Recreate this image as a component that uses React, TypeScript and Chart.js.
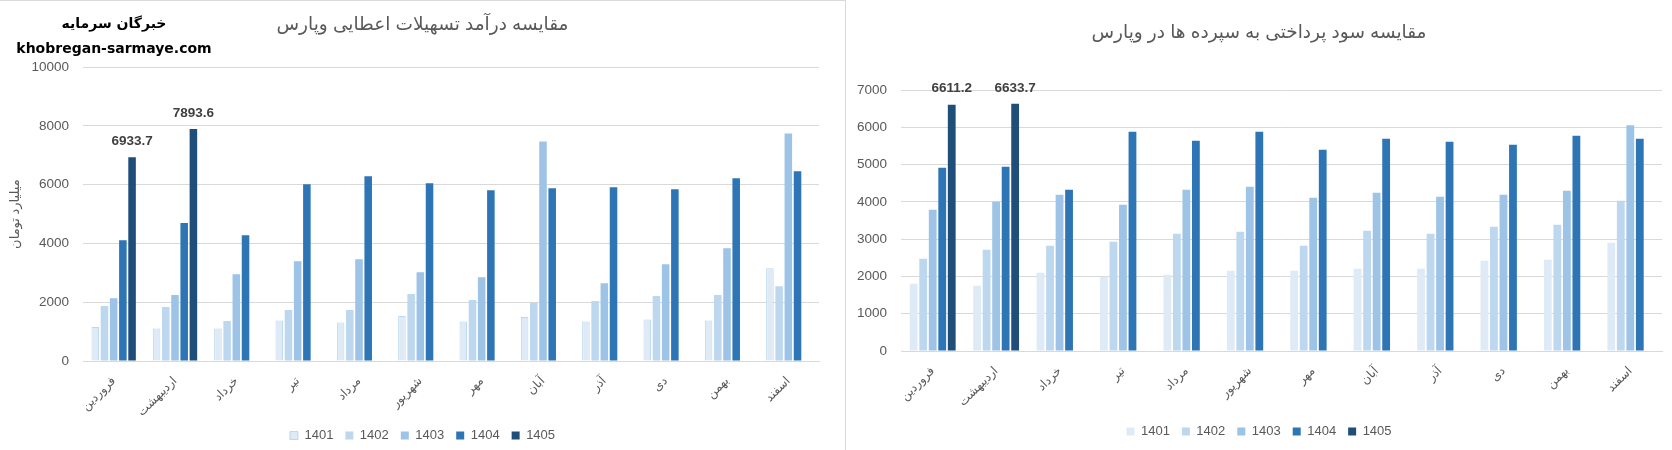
import { useEffect, useRef } from "react"
import { Chart, registerables } from "chart.js"

Chart.register(...registerables)

const FONT = "'Liberation Sans', 'DejaVu Sans', sans-serif"
const TEXT = "#595959"
const GRID = "#D9D9D9"

const months = ["فروردین", "اردیبهشت", "خرداد", "تیر", "مرداد", "شهریور", "مهر", "آبان", "آذر", "دی", "بهمن", "اسفند"]
const years = ["1401", "1402", "1403", "1404", "1405"]
const yearColors = ["#DEEBF7", "#BDD7EE", "#9DC3E6", "#2E75B6", "#1F4E79"]

// درآمد تسهیلات اعطایی (میلیارد تومان)
const loan1401 = [1155, 1110, 1110, 1382, 1314, 1529, 1348, 1495, 1348, 1416, 1382, 3160]
const loan1402 = [1869, 1835, 1359, 1733, 1733, 2277, 2073, 1982, 2039, 2209, 2243, 2548]
const loan1403 = [2140, 2243, 2956, 3398, 3466, 3024, 2854, 7475, 2650, 3296, 3840, 7747]
const loan1404 = [4111, 4700, 4281, 6014, 6286, 6048, 5810, 5878, 5912, 5844, 6218, 6456]
const loan1405 = [6933.7, 7893.6, null, null, null, null, null, null, null, null, null, null]

// سود پرداختی به سپرده ها
const dep1401 = [1805, 1751, 2100, 1993, 2046, 2153, 2153, 2207, 2207, 2421, 2448, 2904]
const dep1402 = [2475, 2717, 2824, 2931, 3145, 3199, 2824, 3226, 3145, 3333, 3387, 4031]
const dep1403 = [3789, 4004, 4192, 3923, 4326, 4407, 4111, 4245, 4138, 4192, 4300, 6061]
const dep1404 = [4916, 4943, 4326, 5882, 5641, 5882, 5400, 5695, 5614, 5534, 5775, 5695]
const dep1405 = [6611.2, 6633.7, null, null, null, null, null, null, null, null, null, null]

// برچسب مقدار فقط روی ستون‌های آخرین سال
const lastYearLabels = {
  id: "lastYearLabels",
  afterDatasetsDraw(chart: any) {
    const idx = chart.data.datasets.length - 1
    const values = chart.data.datasets[idx].data
    const meta = chart.getDatasetMeta(idx)
    const ctx = chart.ctx
    ctx.save()
    ctx.font = `bold 13.5px ${FONT}`
    ctx.fillStyle = "#404040"
    ctx.textAlign = "center"
    ctx.textBaseline = "middle"
    meta.data.forEach((bar: any, i: number) => {
      const v = values[i]
      if (v == null) return
      ctx.fillText(v.toFixed(1), bar.x, bar.y - 16)
    })
    ctx.restore()
  },
}

interface BarPanelProps {
  title: string
  series: (number | null)[][]
  yMax: number
  yStep: number
  yTitle?: string
  axisWidth: number
  titlePad: { top: number; bottom: number }
  padRight: number
  padBottom: number
  xHeight: number
  borderFirst: boolean
  width: number
}

function BarPanel(props: BarPanelProps) {
  const canvasRef = useRef<HTMLCanvasElement>(null)
  const chartRef = useRef<Chart | null>(null)

  useEffect(() => {
    if (!canvasRef.current) return
    if (chartRef.current) chartRef.current.destroy()

    const datasets = years.map((year, k) => ({
      label: year,
      data: props.series[k],
      backgroundColor: yearColors[k],
      borderColor: props.borderFirst && k === 0 ? "#BDD7EE" : yearColors[k],
      borderWidth: props.borderFirst && k === 0 ? 1 : 0,
      categoryPercentage: 0.75,
      barPercentage: 0.82,
      yAxisID: "y",
    }))

    chartRef.current = new Chart(canvasRef.current, {
      type: "bar",
      data: { labels: months, datasets },
      plugins: [lastYearLabels],
      options: {
        responsive: true,
        maintainAspectRatio: false,
        animation: false,
        layout: { padding: { left: 0, top: 0, right: 0, bottom: props.padBottom } },
        plugins: {
          title: {
            display: true,
            text: props.title,
            color: TEXT,
            font: { family: FONT, size: 18.5, weight: "normal" },
            padding: props.titlePad,
          },
          legend: {
            position: "bottom",
            labels: {
              color: TEXT,
              font: { family: FONT, size: 13 },
              boxWidth: 8,
              boxHeight: 8,
              padding: 12,
            },
          },
          tooltip: { enabled: false },
        },
        scales: {
          x: {
            grid: { display: false },
            border: { color: GRID },
            ticks: {
              color: TEXT,
              font: { family: FONT, size: 12 },
              minRotation: 45,
              maxRotation: 45,
              autoSkip: false,
              padding: 5,
            },
            afterFit: (scale: any) => {
              scale.height = props.xHeight
            },
          },
          y: {
            min: 0,
            max: props.yMax,
            grid: { color: GRID, drawTicks: false },
            border: { display: false },
            ticks: {
              stepSize: props.yStep,
              color: TEXT,
              font: { family: FONT, size: 13.5 },
              padding: 14,
              callback: (v: any) => String(v),
            },
            title: {
              display: !!props.yTitle,
              text: props.yTitle || "",
              color: TEXT,
              font: { family: FONT, size: 13 },
              padding: { top: 8, bottom: 0 },
            },
            afterFit: (scale: any) => {
              scale.width = props.axisWidth
            },
          },
          // empty right-hand gutter so the title stays centred on the whole panel
          gutter: {
            type: "linear",
            position: "right",
            grid: { display: false },
            border: { display: false },
            ticks: { display: false },
            afterFit: (scale: any) => {
              scale.width = props.padRight
            },
          },
        },
      },
    } as any)

    return () => {
      if (chartRef.current) {
        chartRef.current.destroy()
        chartRef.current = null
      }
    }
  }, [props])

  return (
    <div style={{ position: "relative", width: props.width, height: 450 }}>
      <canvas ref={canvasRef}></canvas>
    </div>
  )
}

const loanSeries = [loan1401, loan1402, loan1403, loan1404, loan1405]
const depSeries = [dep1401, dep1402, dep1403, dep1404, dep1405]

export default function App() {
  return (
    <div
      style={{
        position: "fixed",
        left: 0,
        top: 0,
        width: 1672,
        height: 450,
        background: "#ffffff",
        overflow: "hidden",
      }}
    >
      <div style={{ position: "absolute", left: 0, top: 0 }}>
        <BarPanel
          title="مقایسه درآمد تسهیلات اعطایی وپارس"
          series={loanSeries}
          yMax={10000}
          yStep={2000}
          yTitle="میلیارد تومان"
          axisWidth={83}
          titlePad={{ top: 14, bottom: 31 }}
          padRight={26}
          padBottom={-2}
          xHeight={56}
          borderFirst={true}
          width={845}
        />
      </div>
      <div style={{ position: "absolute", left: 846, top: 0 }}>
        <BarPanel
          title="مقایسه سود پرداختی به سپرده ها در وپارس"
          series={depSeries}
          yMax={7000}
          yStep={1000}
          axisWidth={55}
          titlePad={{ top: 22, bottom: 46 }}
          padRight={10}
          padBottom={2}
          xHeight={62}
          borderFirst={false}
          width={826}
        />
      </div>
      {/* frame lines */}
      <div style={{ position: "absolute", left: 0, top: 0, width: 846, height: 1, background: GRID }} />
      <div style={{ position: "absolute", left: 845, top: 0, width: 1, height: 450, background: GRID }} />
      {/* watermark */}
      <div
        style={{
          position: "absolute",
          left: 0,
          top: 13,
          width: 228,
          textAlign: "center",
          fontFamily: "'DejaVu Sans', sans-serif",
          fontWeight: "bold",
          color: "#000000",
          lineHeight: "20px",
        }}
      >
        <div style={{ fontSize: 14 }} dir="rtl">خبرگان سرمایه</div>
        <div style={{ fontSize: 14, marginTop: 5 }}>khobregan-sarmaye.com</div>
      </div>
    </div>
  )
}
